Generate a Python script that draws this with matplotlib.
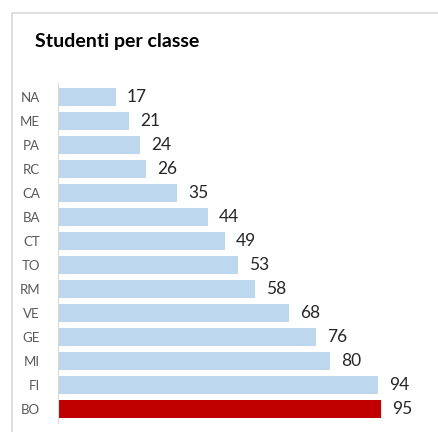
import matplotlib.pyplot as plt
from matplotlib.patches import Rectangle

cities = ["NA", "ME", "PA", "RC", "CA", "BA", "CT", "TO", "RM", "VE", "GE", "MI", "FI", "BO"]
students = [17, 21, 24, 26, 35, 44, 49, 53, 58, 68, 76, 80, 94, 95]
highlight = "BO"

plt.rcParams['font.family'] = ['Lato', 'DejaVu Sans']

fig = plt.figure(figsize=(4.39, 4.32), dpi=100)
W, H = 439, 432

# chart frame (top/left edges visible only)
fig.patches.append(Rectangle((12 / W, -0.1), 1.2, (H - 13) / H + 0.1,
                             transform=fig.transFigure, fill=False,
                             edgecolor="#d9d9d9", linewidth=1.2))

ax = fig.add_axes([58 / W, 1 - 423 / H, (420 - 58) / W, (423 - 83) / H])
colors = ["#C00000" if c == highlight else "#BDD7EE" for c in cities]
ypos = range(len(cities))
ax.barh(ypos, students, height=0.76, color=colors)
ax.set_ylim(len(cities) - 0.4, -0.6)
ax.set_xlim(0, 106.5)
ax.set_yticks(list(ypos))
ax.set_yticklabels(cities, fontsize=9.5, color="#595959")
ax.tick_params(axis="y", length=0, pad=13)
ax.set_xticks([])
for s in ["top", "right", "bottom"]:
    ax.spines[s].set_visible(False)
ax.spines["left"].set_color("#d9d9d9")

for y, v in zip(ypos, students):
    ax.text(v + 3.3, y, str(v), va="center", ha="left", fontsize=12.5, color="#262626")

fig.text(35 / W, 1 - 42 / H, "Studenti per classe", fontsize=14, fontweight="bold",
         color="#000000", va="center", ha="left")

fig.savefig("out.png", dpi=100)
